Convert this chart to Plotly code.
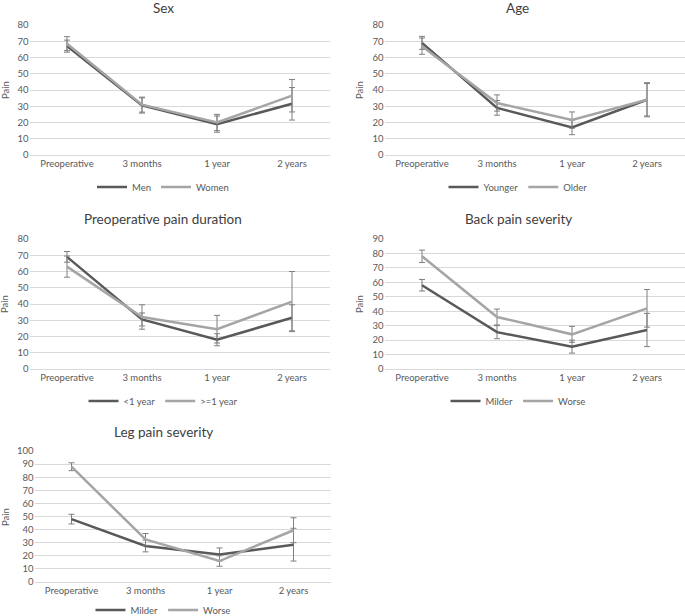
import plotly.graph_objects as go

W, H = 685, 616

categories = ["Preoperative", "3 months", "1 year", "2 years"]

# Sex
sex_titles = ("Men", "Women")
sex_men = [67, 30.5, 19, 31.5]
sex_men_err = [3.7, 4.7, 5, 10]
sex_women = [68.5, 31, 20, 36.5]
sex_women_err = [4.3, 4.6, 5, 10]

# Age
age_titles = ("Younger", "Older")
age_younger = [69, 29, 17, 34]
age_younger_err = [4, 4.5, 4.5, 10.5]
age_older = [67, 32, 21.5, 34]
age_older_err = [5, 5, 5, 10]

# Preoperative pain duration
dur_titles = ("<1 year", ">=1 year")
dur_short = [69, 30.5, 18, 31.5]
dur_short_err = [3.3, 4, 3.7, 8]
dur_long = [63, 32, 24.5, 41.5]
dur_long_err = [6.5, 7.5, 8.5, 18.5]

# Back pain severity
back_titles = ("Milder", "Worse")
back_milder = [58, 25.5, 15.5, 27]
back_milder_err = [4, 4.5, 4.5, 11.5]
back_worse = [78, 36, 24, 42]
back_worse_err = [4.3, 5.5, 5.5, 13]

# Leg pain severity
leg_titles = ("Milder", "Worse")
leg_milder = [48, 27.5, 21, 28.5]
leg_milder_err = [3.7, 4.5, 5, 12.5]
leg_worse = [88, 32.5, 16, 39.5]
leg_worse_err = [3, 4.5, 4, 9.5]

DARK = "#595959"
LIGHT = "#a5a5a5"
ERR = "#7f7f7f"
GRID = "#d9d9d9"
TXT = "#595959"
FONT = "Lato"

panels = [
    dict(title="Sex", names=sex_titles, s=[(sex_men, sex_men_err), (sex_women, sex_women_err)],
         ymax=80, box=(29.5, 329.5, 25, 155), tpos=(163, 8), ppos=(6, 90), lpos=(163, 187)),
    dict(title="Age", names=age_titles, s=[(age_younger, age_younger_err), (age_older, age_older_err)],
         ymax=80, box=(384.5, 684.5, 25, 155), tpos=(517, 8), ppos=(360, 90), lpos=(518, 187)),
    dict(title="Preoperative pain duration", names=dur_titles,
         s=[(dur_short, dur_short_err), (dur_long, dur_long_err)],
         ymax=80, box=(29.5, 329.5, 239, 369), tpos=(163, 219), ppos=(5, 304), lpos=(163, 401)),
    dict(title="Back pain severity", names=back_titles,
         s=[(back_milder, back_milder_err), (back_worse, back_worse_err)],
         ymax=90, box=(384.5, 684.5, 239, 369), tpos=(518, 219), ppos=(360, 304), lpos=(518, 401)),
    dict(title="Leg pain severity", names=leg_titles,
         s=[(leg_milder, leg_milder_err), (leg_worse, leg_worse_err)],
         ymax=100, box=(34.5, 330.5, 451, 582), tpos=(163, 432), ppos=(5, 517), lpos=(163, 610)),
]

fig = go.Figure()
annotations = []
layout = {}
for i, p in enumerate(panels):
    n = "" if i == 0 else str(i + 1)
    xa, ya = "x" + n, "y" + n
    lg = "legend" + n
    for (vals, errs), name, col in zip(p["s"], p["names"], (DARK, LIGHT)):
        fig.add_trace(go.Scatter(
            x=categories, y=vals, name=name, mode="lines",
            line=dict(color=col, width=2.5),
            error_y=dict(type="data", array=errs, visible=True, color=ERR, thickness=1, width=3),
            xaxis=xa, yaxis=ya, legend=lg, hoverinfo="x+y+name",
        ))
    x0, x1, yt, yb = p["box"]
    layout["xaxis" + n] = dict(
        domain=[x0 / W, x1 / W], anchor=ya, type="category", range=[-0.5, 3.5],
        showgrid=False, showline=True, linecolor=GRID, linewidth=1, ticks="",
        tickfont=dict(family=FONT, size=9.5, color=TXT), fixedrange=True,
        automargin=False,
    )
    layout["yaxis" + n] = dict(
        domain=[1 - yb / H, 1 - yt / H], anchor=xa, range=[0, p["ymax"]], dtick=10,
        showgrid=True, gridcolor=GRID, gridwidth=1, zeroline=False, showline=False, ticks="",
        tickfont=dict(family=FONT, size=9.5, color=TXT), fixedrange=True, automargin=False,
    )
    lx, ly = p["lpos"]
    layout[lg] = dict(
        orientation="h", x=lx / W, y=1 - ly / H, xanchor="center", yanchor="middle",
        font=dict(family=FONT, size=9.5, color=TXT), bgcolor="rgba(0,0,0,0)",
        itemwidth=30, tracegroupgap=0,
    )
    tx, ty = p["tpos"]
    annotations.append(dict(text=p["title"], x=tx / W, y=1 - ty / H, xref="paper", yref="paper",
                            xanchor="center", yanchor="middle", showarrow=False,
                            font=dict(family=FONT, size=13.5, color="#404040")))
    px, py = p["ppos"]
    annotations.append(dict(text="Pain", x=px / W, y=1 - py / H, xref="paper", yref="paper",
                            xanchor="center", yanchor="middle", showarrow=False, textangle=-90,
                            font=dict(family=FONT, size=9.5, color=TXT)))

fig.update_layout(
    width=W, height=H, margin=dict(l=0, r=0, t=0, b=0, autoexpand=False),
    paper_bgcolor="white", plot_bgcolor="white",
    annotations=annotations, **layout,
)
fig.write_html(
    "out.html",
    config={"displayModeBar": False},
    post_script="document.body.style.margin='0';document.body.style.overflow='hidden';",
)
